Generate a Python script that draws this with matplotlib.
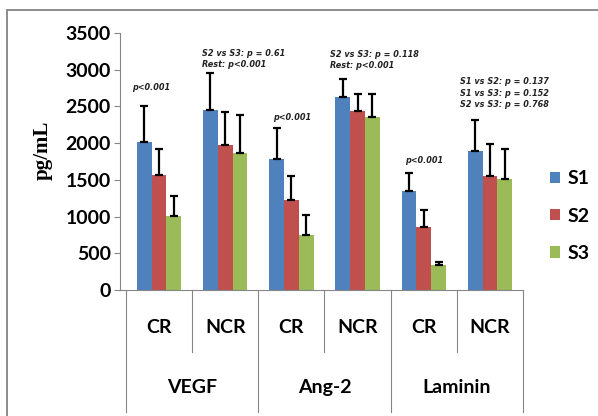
import matplotlib
matplotlib.use("Agg")
import matplotlib.pyplot as plt
from matplotlib import font_manager
from matplotlib.lines import Line2D
from matplotlib.patches import Patch
import numpy as np

# data
groups = ["VEGF", "Ang-2", "Laminin"]
subs = ["CR", "NCR", "CR", "NCR", "CR", "NCR"]
series = ["S1", "S2", "S3"]
s1 = [2010, 2450, 1785, 2635, 1350, 1890]
s2 = [1565, 1975, 1230, 2435, 855, 1555]
s3 = [1005, 1865, 745, 2350, 345, 1515]
s1_err = [500, 510, 420, 240, 250, 420]
s2_err = [360, 450, 325, 240, 235, 435]
s3_err = [275, 520, 270, 320, 40, 400]
notes = ["p<0.001",
         "S2 vs S3: p = 0.61\nRest: p<0.001",
         "p<0.001",
         "S2 vs S3: p = 0.118\nRest: p<0.001",
         "p<0.001",
         "S1 vs S2: p = 0.137\nS1 vs S3: p = 0.152\nS2 vs S3: p = 0.768"]
yticks = [0, 500, 1000, 1500, 2000, 2500, 3000, 3500]

colors = ["#4F81BD", "#C0504D", "#9BBB59"]
gray = "#868686"

names = {f.name for f in font_manager.fontManager.ttflist}
sans = "Lato" if "Lato" in names else "DejaVu Sans"
narrow = "Liberation Sans Narrow" if "Liberation Sans Narrow" in names else "DejaVu Sans"

fig = plt.figure(figsize=(5.98, 4.16), dpi=100)
ax = fig.add_axes([120 / 598, 126 / 416, 403 / 598, 257 / 416])

x = np.arange(len(subs))
w = 0.224
vals = [s1, s2, s3]
errs = [s1_err, s2_err, s3_err]
for i in range(3):
    xs = x + (i - 1) * w
    ax.bar(xs, vals[i], w, color=colors[i], label=series[i], zorder=2)
    ax.errorbar(xs, vals[i], yerr=[np.zeros(len(subs)), errs[i]], fmt="none",
                ecolor="black", elinewidth=1.6, capsize=3, capthick=1.6, zorder=3)

ax.set_xlim(-0.59, 5.5)
ax.set_ylim(0, 3500)
ax.set_yticks(yticks)
ax.set_yticklabels([str(t) for t in yticks], fontfamily=sans, fontweight="bold", fontsize=14)
ax.tick_params(axis="y", direction="out", length=4.5, width=0.8, color=gray, pad=2)
ax.set_xticks([])
for s in ["top", "right"]:
    ax.spines[s].set_visible(False)
for s in ["left", "bottom"]:
    ax.spines[s].set_color(gray)
    ax.spines[s].set_linewidth(0.8)

ax.set_ylabel("pg/mL", fontfamily="Liberation Serif", fontweight="bold", fontsize=15)
ax.yaxis.set_label_coords(-0.166, 0.545)

# category table under the axis
tr = ax.get_xaxis_transform()
for b in [0.5, 2.5, 4.5]:
    ax.plot([b, b], [0, -0.241], transform=tr, color=gray, lw=0.8, clip_on=False)
for b in [-0.5, 1.5, 3.5, 5.5]:
    ax.plot([b, b], [0, -0.475], transform=tr, color=gray, lw=0.8, clip_on=False)
for xi, lab in zip(x, subs):
    ax.text(xi, -0.144, lab, transform=tr, ha="center", va="center",
            fontfamily=sans, fontweight="bold", fontsize=14)
for gi, g in enumerate(groups):
    ax.text(2 * gi + 0.5, -0.381, g, transform=tr, ha="center", va="center",
            fontfamily=sans, fontweight="bold", fontsize=14)

# p-value notes
note_pos = [(-0.41, 2751), (0.644, 3149), (1.72, 2346), (2.59, 3131), (3.716, 1770), (4.547, 2679)]
for (nx_, ny_), t in zip(note_pos, notes):
    ax.text(nx_, ny_, t, ha="left", va="center", fontfamily=narrow, fontstyle="italic",
            fontweight="bold", fontstretch="condensed", fontsize=6.5, linespacing=1.35,
            color="#222222")

handles = [Patch(facecolor=c) for c in colors]
fig.legend(handles, series, loc="center left", bbox_to_anchor=(550 / 598, 1 - 216 / 416),
           frameon=False, prop={"family": sans, "weight": "bold", "size": 14},
           borderpad=0, borderaxespad=0,
           handlelength=0.5, handleheight=0.5, handletextpad=0.4, labelspacing=1.05)

# chart area border (top and left visible)
fig.add_artist(Line2D([7 / 598, 1], [1 - 10 / 416, 1 - 10 / 416], color="#8c8c8c", lw=1.4))
fig.add_artist(Line2D([7 / 598, 7 / 598], [0, 1 - 10 / 416], color="#8c8c8c", lw=1.4))

fig.savefig("out.png", dpi=100)
